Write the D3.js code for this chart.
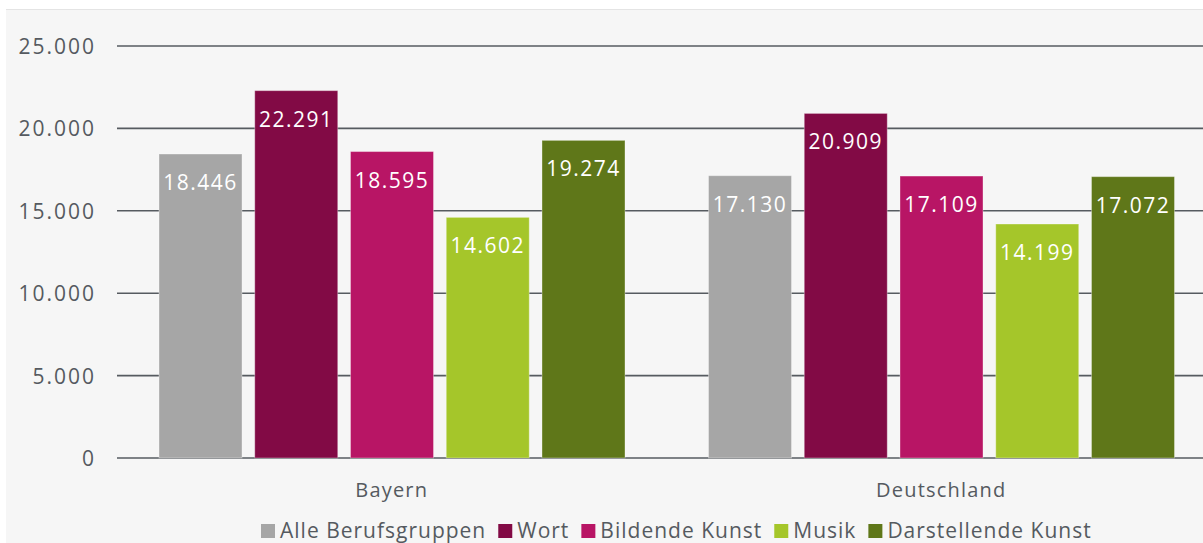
<!DOCTYPE html>
<html>
<head>
<meta charset="utf-8">
<script src="https://cdn.jsdelivr.net/npm/d3@7"></script>
<style>
  body { margin: 0; background: #fff; overflow: hidden; }
  text { font-family: "Open Sans", sans-serif; }
</style>
</head>
<body>
<div id="chart"></div>
<script>
// data
const groups = ["Bayern", "Deutschland"];
const seriesNames = ["Alle Berufsgruppen", "Wort", "Bildende Kunst", "Musik", "Darstellende Kunst"];
const bayern = [18446, 22291, 18595, 14602, 19274];
const deutschland = [17130, 20909, 17109, 14199, 17072];
const yTicks = [0, 5000, 10000, 15000, 20000, 25000];
const colors = ["#a6a6a6", "#820a45", "#b81565", "#a5c62a", "#5f7719"];

const width = 1203, height = 543;
const margin = { top: 46, left: 117, bottom: 85 };

const de = d3.formatLocale({ decimal: ",", thousands: ".", grouping: [3], currency: ["", "€"] });
const fmt = de.format(",d");

const svg = d3.select("#chart").append("svg")
  .attr("width", width)
  .attr("height", height);

// panel background
svg.append("rect")
  .attr("x", 6).attr("y", 10)
  .attr("width", width).attr("height", height)
  .attr("fill", "#f6f6f6");
svg.append("line")
  .attr("x1", 6).attr("x2", width)
  .attr("y1", 9.5).attr("y2", 9.5)
  .attr("stroke", "#e4e4e4").attr("stroke-width", 1);

var y = d3.scaleLinear().domain([0, 25000]).range([458, 46]);
var x0 = d3.scaleBand().domain(groups).range([margin.left, margin.left + 2 * 549.5]);
var x1 = d3.scaleBand().domain(seriesNames).range([42, 508]).paddingInner(0.133);

// grid lines
svg.append("g")
  .selectAll("line")
  .data(yTicks)
  .enter()
  .append("line")
  .attr("x1", margin.left)
  .attr("x2", width)
  .attr("y1", (d) => y(d))
  .attr("y2", (d) => y(d))
  .attr("stroke", "#565b60")
  .attr("stroke-width", 1.6);

// y labels
svg.append("g")
  .selectAll("text")
  .data(yTicks)
  .enter()
  .append("text")
  .attr("x", 96)
  .attr("y", (d) => y(d) + 8)
  .attr("text-anchor", "end")
  .attr("font-size", 21)
  .attr("letter-spacing", 2)
  .attr("fill", "#555a60")
  .text((d) => (d === 0 ? "0" : fmt(d)));

const rows = [bayern, deutschland];

const gs = svg.selectAll(".grp")
  .data(groups)
  .enter()
  .append("g")
  .attr("class", "grp")
  .attr("transform", (d) => "translate(" + x0(d) + ",0)");

gs.selectAll("rect")
  .data((g, i) => seriesNames.map((s, j) => ({ s: s, v: rows[i][j], c: colors[j] })))
  .enter()
  .append("rect")
  .attr("x", (d) => x1(d.s))
  .attr("y", (d) => y(d.v))
  .attr("width", x1.bandwidth())
  .attr("height", (d) => y(0) - y(d.v))
  .attr("fill", (d) => d.c)
  .attr("stroke", "rgba(255,255,255,0.35)")
  .attr("stroke-width", 1);

gs.selectAll(".val")
  .data((g, i) => seriesNames.map((s, j) => ({ s: s, v: rows[i][j] })))
  .enter()
  .append("text")
  .attr("class", "val")
  .attr("x", (d) => x1(d.s) + x1.bandwidth() / 2)
  .attr("y", (d) => y(d.v) + 36)
  .attr("text-anchor", "middle")
  .attr("font-size", 21)
  .attr("letter-spacing", 1.5)
  .attr("fill", "#fff")
  .text((d) => fmt(d.v));

// category labels
svg.append("g")
  .selectAll("text")
  .data(groups)
  .enter()
  .append("text")
  .attr("x", (d) => x0(d) + x0.bandwidth() / 2)
  .attr("y", 497)
  .attr("text-anchor", "middle")
  .attr("font-size", 20)
  .attr("letter-spacing", 1.2)
  .attr("fill", "#555a60")
  .text((d) => d);

// legend
const legend = svg.append("g").attr("transform", "translate(261,538)");
let lx = 0;
seriesNames.forEach(function (name, i) {
  const item = legend.append("g").attr("transform", "translate(" + lx + ",0)");
  item.append("rect")
    .attr("x", 0).attr("y", -14)
    .attr("width", 14).attr("height", 14)
    .attr("fill", colors[i]);
  const t = item.append("text")
    .attr("x", 19)
    .attr("y", 0)
    .attr("font-size", 21)
    .attr("letter-spacing", 1)
    .attr("fill", "#555a60")
    .text(name);
  lx += 19 + t.node().getComputedTextLength() + 12;
});
</script>
</body>
</html>
